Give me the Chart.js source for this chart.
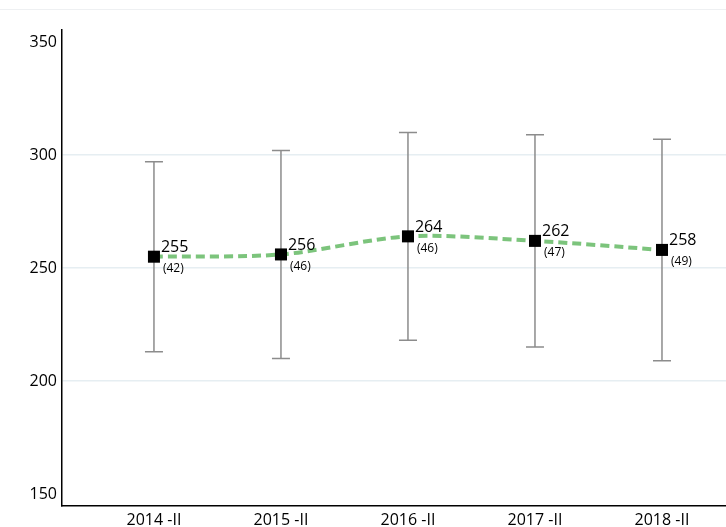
<!DOCTYPE html>
<html>
<head>
<meta charset="utf-8">
<script src="https://cdn.jsdelivr.net/npm/chart.js@4"></script>
<style>
  html, body { margin: 0; padding: 0; background: #fff; }
  #wrap { width: 726px; height: 527px; }
</style>
</head>
<body>
<div id="wrap"><canvas id="myChart" width="726" height="527"></canvas></div>
<script>
const categories = ['2014 -II', '2015 -II', '2016 -II', '2017 -II', '2018 -II'];
const means = [255, 256, 264, 262, 258];
const counts = [42, 46, 46, 47, 49];
const upper = [297, 302, 310, 309, 307];
const lower = [213, 210, 218, 215, 209];
const yTicks = [150, 200, 250, 300, 350];

const FONT = "'Open Sans', 'Noto Sans', sans-serif";

// barras de erro desenhadas pelas escalas do gráfico
const errorBars = {
    id: 'errorBars',
    beforeDatasetsDraw(chart) {
        const { ctx, scales: { x, y } } = chart;
        ctx.save();
        ctx.strokeStyle = '#8c8c8c';
        ctx.lineWidth = 1.5;
        categories.forEach((c, i) => {
            const px = x.getPixelForValue(i);
            const top = y.getPixelForValue(upper[i]);
            const bot = y.getPixelForValue(lower[i]);
            ctx.beginPath();
            ctx.moveTo(px, top); ctx.lineTo(px, bot);
            ctx.moveTo(px - 9, top); ctx.lineTo(px + 9, top);
            ctx.moveTo(px - 9, bot); ctx.lineTo(px + 9, bot);
            ctx.stroke();
        });
        ctx.restore();
    }
};

// rótulos de valor e (n)
const pointLabels = {
    id: 'pointLabels',
    afterDatasetsDraw(chart) {
        const { ctx } = chart;
        const meta = chart.getDatasetMeta(0);
        ctx.save();
        ctx.fillStyle = '#000';
        ctx.textBaseline = 'middle';
        meta.data.forEach((pt, i) => {
            ctx.font = `16px ${FONT}`;
            ctx.fillText(String(means[i]), pt.x + 7, pt.y - 9);
            ctx.font = `12px ${FONT}`;
            ctx.fillText(`(${counts[i]})`, pt.x + 9, pt.y + 12);
        });
        ctx.restore();
    }
};

// linha clara no topo
const topRule = {
    id: 'topRule',
    beforeDraw(chart) {
        const { ctx, width } = chart;
        ctx.save();
        ctx.strokeStyle = '#eef0f2';
        ctx.lineWidth = 1;
        ctx.beginPath();
        ctx.moveTo(0, 9.5); ctx.lineTo(width, 9.5);
        ctx.stroke();
        ctx.restore();
    }
};

new Chart(document.getElementById('myChart'), {
    type: 'line',
    data: {
        datasets: [{
            data: means.map((v, i) => ({ x: i, y: v })),
            borderColor: 'rgba(110, 190, 110, 0.9)',
            borderWidth: 4,
            borderDash: [9, 5],
            tension: 0.3,
            pointStyle: 'rect',
            pointRadius: 8.5,
            pointBackgroundColor: '#000',
            pointBorderColor: '#000',
            pointBorderWidth: 0
        }]
    },
    options: {
        responsive: false,
        animation: false,
        layout: { autoPadding: false, padding: { top: 30, right: 0, left: 0, bottom: 0 } },
        plugins: { legend: { display: false }, tooltip: { enabled: false } },
        scales: {
            x: {
                type: 'linear',
                min: -0.724,
                max: 4.504,
                afterBuildTicks: (axis) => { axis.ticks = categories.map((c, i) => ({ value: i })); },
                afterFit: (axis) => { axis.height = 21; },
                grid: { display: false, drawTicks: false },
                border: { color: '#000', width: 1.5 },
                ticks: {
                    padding: 5,
                    color: '#000',
                    font: { family: FONT, size: 16 },
                    maxRotation: 0,
                    callback: (v) => categories[v]
                }
            },
            y: {
                min: 144.7,
                max: 355.3,
                afterBuildTicks: (axis) => { axis.ticks = yTicks.map(v => ({ value: v })); },
                afterFit: (axis) => { axis.width = 62; },
                grid: {
                    drawTicks: false,
                    color: (c) => (c.tick && (c.tick.value === 150 || c.tick.value === 350)) ? 'rgba(0,0,0,0)' : '#e6eef2',
                    lineWidth: 1.5
                },
                border: { color: '#000', width: 1.5 },
                ticks: {
                    padding: 5,
                    color: '#000',
                    font: { family: FONT, size: 16 }
                }
            }
        }
    },
    plugins: [topRule, errorBars, pointLabels]
});
</script>
</body>
</html>
